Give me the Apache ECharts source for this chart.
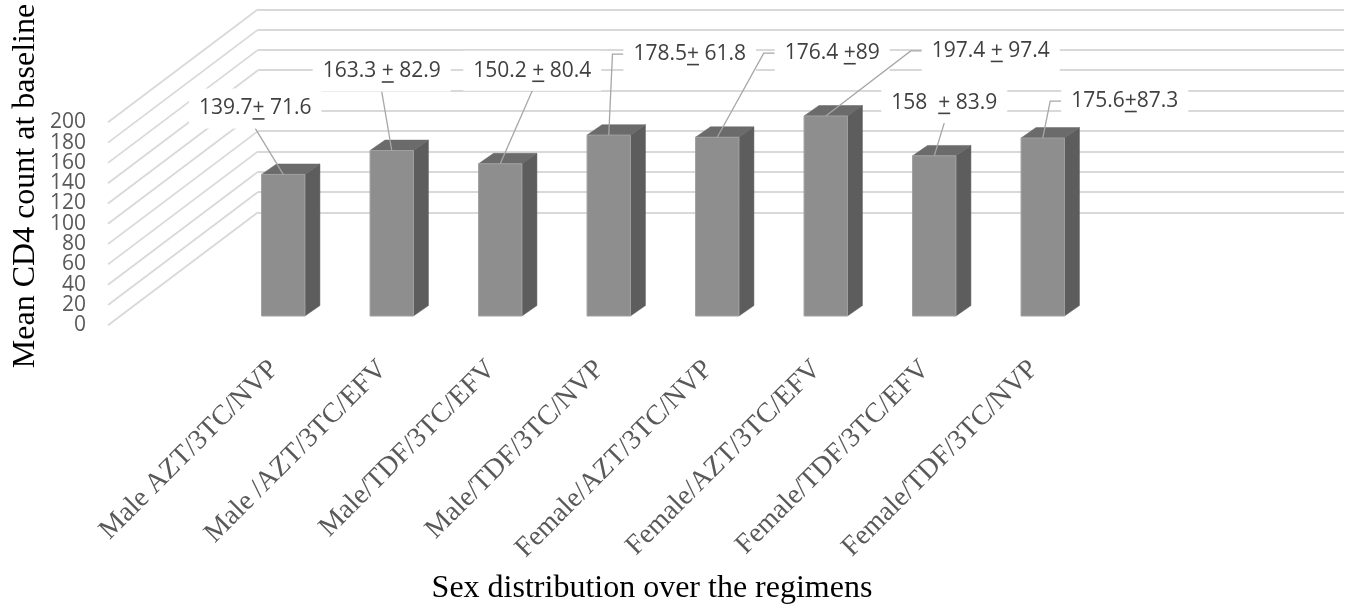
<!DOCTYPE html>
<html>
<head>
<meta charset="utf-8">
<style>
  html, body { margin: 0; padding: 0; background: #ffffff; }
  #chart { width: 1353px; height: 609px; }
</style>
<script src="https://cdn.jsdelivr.net/npm/echarts@6/dist/echarts.min.js"></script>
</head>
<body>
<div id="chart"></div>
<script>
// Regimen groups, split by sex
const categories = [
  'Male AZT/3TC/NVP',
  'Male /AZT/3TC/EFV',
  'Male/TDF/3TC/EFV',
  'Male/TDF/3TC/NVP',
  'Female/AZT/3TC/NVP',
  'Female/AZT/3TC/EFV',
  'Female/TDF/3TC/EFV',
  'Female/TDF/3TC/NVP'
];

// Mean CD4 count at baseline and its standard deviation
const meanCD4 = [139.7, 163.3, 150.2, 178.5, 176.4, 197.4, 158, 175.6];
const sdCD4 = [71.6, 82.9, 80.4, 61.8, 89, 97.4, 83.9, 87.3];

// Spacing around the "+" sign in each label: [before, after]
const labelSpacing = [
  ['', ' '], [' ', ' '], [' ', ' '], ['', ' '],
  [' ', ''], [' ', ' '], ['  ', ' '], ['', '']
];

// Value axis ticks
const yTicks = [0, 20, 40, 60, 80, 100, 120, 140, 160, 180, 200];

// ---- layout / style settings ----
const LABEL_FONT = '21px "Open Sans"';
const TICK_FONT = '21px "Open Sans"';
const LABEL_COLOR = '#404040';
const GRID_COLOR = '#d9d9d9';
const WALL_DX = 150;     // floor depth, horizontal
const WALL_DY = 113;     // floor depth, vertical
const TICK_GAP = 22;     // gap between wall edge and tick label
const BAR_RATIO = 0.4;   // bar width / category band
const DEPTH_X = 0.345;   // bar depth relative to bar width
const DEPTH_Y = 0.24;
// label placement relative to the front-top centre of each bar
const labelPlacement = [
  { dx: -28, dy: -66, leader: 'bottom' },
  { dx: -10, dy: -79, leader: 'bottom' },
  { dx: 32, dy: -93, leader: 'bottom' },
  { dx: 81, dy: -81, leader: 'left' },
  { dx: 115, dy: -84, leader: 'left' },
  { dx: 165, dy: -65, leader: 'left' },
  { dx: 10, dy: -53, leader: 'bottom' },
  { dx: 82, dy: -37, leader: 'left' }
];

const measureCtx = document.createElement('canvas').getContext('2d');
function textWidth(s) {
  measureCtx.font = LABEL_FONT;
  return measureCtx.measureText(s).width;
}

function renderBar(params, api) {
  const idx = params.dataIndex;
  const cat = api.value(0);
  const v = api.value(1);
  const base = api.coord([cat, 0]);
  const top = api.coord([cat, v]);
  const band = api.size([1, 0])[0];
  const w = band * BAR_RATIO;
  const ddx = w * DEPTH_X;
  const ddy = -w * DEPTH_Y;
  const x0 = base[0] - w / 2;
  const x1 = base[0] + w / 2;
  const yb = base[1];
  const yt = top[1];

  const children = [
    { type: 'polygon', shape: { points: [[x1, yb], [x1 + ddx, yb + ddy], [x1 + ddx, yt + ddy], [x1, yt]] },
      style: { fill: '#5d5d5d', stroke: '#5a5a5a', lineWidth: 0.5 } },
    { type: 'polygon', shape: { points: [[x0, yt], [x0 + ddx, yt + ddy], [x1 + ddx, yt + ddy], [x1, yt]] },
      style: { fill: '#6b6b6b', stroke: '#666666', lineWidth: 0.5 } },
    { type: 'rect', shape: { x: x0, y: yt, width: w, height: yb - yt },
      style: { fill: '#8e8e8e', stroke: '#a0a0a0', lineWidth: 1 } }
  ];

  // label with leader line
  const sp = labelSpacing[idx];
  const prefix = String(meanCD4[idx]) + sp[0];
  const text = prefix + '+' + sp[1] + String(sdCD4[idx]);
  const tw = textWidth(text);
  const pw = textWidth(prefix);
  const plusW = textWidth('+');
  const pl = labelPlacement[idx];
  const cx = base[0] + pl.dx;
  const cy = yt + pl.dy;
  const padX = 10, halfH = 20;
  const left = cx - tw / 2;
  const boxLeft = left - padX;
  const anchor = [base[0], yt];

  if (pl.leader === 'bottom') {
    children.push({ type: 'line', shape: { x1: anchor[0], y1: anchor[1], x2: cx, y2: cy + halfH },
      style: { stroke: '#a6a6a6', lineWidth: 1.3 } });
  } else {
    children.push({ type: 'polyline', shape: { points: [anchor, [boxLeft - 11, cy], [boxLeft, cy]] },
      style: { stroke: '#a6a6a6', lineWidth: 1.3, fill: null } });
  }
  children.push({ type: 'rect', shape: { x: boxLeft, y: cy - halfH, width: tw + 2 * padX, height: 2 * halfH },
    style: { fill: '#ffffff' } });
  children.push({ type: 'text', x: left, y: cy,
    style: { text: text, font: LABEL_FONT, fill: LABEL_COLOR, align: 'left', verticalAlign: 'middle' } });
  children.push({ type: 'line', shape: { x1: left + pw, y1: cy + 10.5, x2: left + pw + plusW, y2: cy + 10.5 },
    style: { stroke: LABEL_COLOR, lineWidth: 1.6 } });

  return { type: 'group', children: children };
}

// Side wall: one receding gridline per tick, with the tick value at its front end
function renderWall(params, api) {
  const t = api.value(0);
  const p = api.coord([0, t]);
  const fx = p[0] - WALL_DX;
  const fy = p[1] + WALL_DY;
  return {
    type: 'group',
    children: [
      { type: 'line', shape: { x1: p[0], y1: p[1], x2: fx, y2: fy },
        style: { stroke: GRID_COLOR, lineWidth: 1.8 } },
      { type: 'text', x: fx - TICK_GAP, y: fy,
        style: { text: String(t), font: TICK_FONT, fill: '#595959', align: 'right', verticalAlign: 'middle' } }
    ]
  };
}

const option = {
  animation: false,
  backgroundColor: '#ffffff',
  grid: [
    { left: 229, top: 113.3, width: 868, height: 202.7 },      // bar front plane
    { left: 258, top: 9.3, width: 1086, height: 203 },          // back wall
    { left: 220, top: 300, width: 868, height: 57 }             // category labels
  ],
  xAxis: [
    { type: 'category', gridIndex: 0, data: categories, show: false },
    { type: 'value', gridIndex: 1, min: 0, max: 1, show: false },
    { type: 'category', gridIndex: 2, data: categories,
      axisLine: { show: false }, axisTick: { show: false },
      axisLabel: { interval: 0, rotate: 45, margin: 8, color: '#595959',
        fontFamily: '"Liberation Serif", "Times New Roman", serif', fontSize: 28 } }
  ],
  yAxis: [
    { type: 'value', gridIndex: 0, min: 0, max: 200, show: false },
    { type: 'value', gridIndex: 1, min: 0, max: 200, interval: 20,
      axisLine: { show: false }, axisTick: { show: false }, axisLabel: { show: false },
      splitLine: { show: true, lineStyle: { color: GRID_COLOR, width: 1.8 } } },
    { type: 'value', gridIndex: 2, show: false }
  ],
  graphic: [
    { type: 'text', x: 26, y: 186, rotation: Math.PI / 2,
      style: { text: 'Mean CD4 count at baseline', font: '32px "Liberation Serif"', fill: '#000000',
        align: 'center', verticalAlign: 'middle' } },
    { type: 'text', x: 652, y: 589,
      style: { text: 'Sex distribution over the regimens', font: '32px "Liberation Serif"', fill: '#000000',
        align: 'center', verticalAlign: 'middle' } }
  ],
  series: [
    { type: 'custom', xAxisIndex: 1, yAxisIndex: 1, clip: false, silent: true,
      data: yTicks.map(function (t) { return [t]; }), renderItem: renderWall, z: 1 },
    { type: 'custom', xAxisIndex: 0, yAxisIndex: 0, clip: false,
      data: meanCD4.map(function (m, i) { return [i, m]; }), renderItem: renderBar, z: 3 }
  ]
};

const chart = echarts.init(document.getElementById('chart'), null, { renderer: 'canvas' });
chart.setOption(option);
</script>
</body>
</html>
